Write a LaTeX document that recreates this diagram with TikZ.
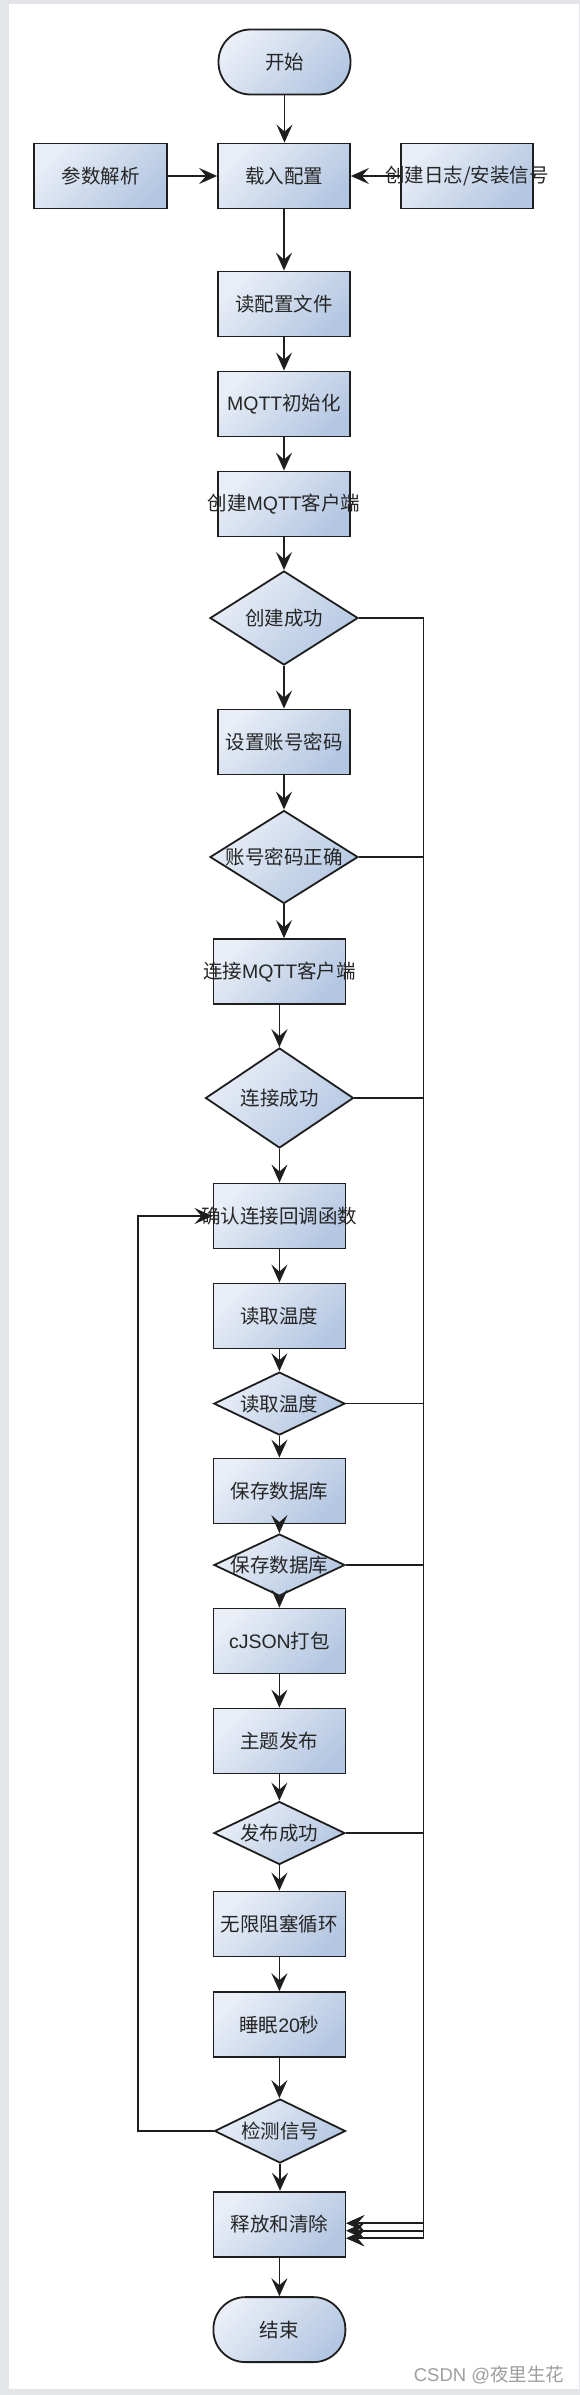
\documentclass[tikz,border=0pt]{standalone}
\usepackage{fontspec}
\setmainfont{Noto Sans CJK SC}
\newfontfamily\lat{Liberation Sans}
\usetikzlibrary{shapes.geometric,arrows.meta}
\definecolor{boxlight}{HTML}{E9EEF7}
\definecolor{boxdark}{HTML}{B4C7E2}
\definecolor{pagegrey}{HTML}{E3E5E8}
\definecolor{inkgrey}{HTML}{1E1E1E}
\newcommand{\ctext}[1]{\makebox[0pt]{#1}}

\begin{document}
\begin{tikzpicture}[x=1pt, y=-1pt,
	font=\fontsize{19.5}{23}\selectfont,
	procbox/.style={draw=inkgrey, line width=1.8pt, text=black!85, top color=boxlight, bottom color=boxdark, shading angle=45, minimum width=132pt, minimum height=65pt, inner sep=0pt},
	decision/.style={procbox, diamond},
	terminal/.style={procbox, rounded corners=32pt},
	arr/.style={-{Stealth[length=18pt, width=16pt, inset=7pt]}, line width=1.8pt, draw=inkgrey},
	ret/.style={arr, line width=1.7pt}]
	\useasboundingbox (0,0) rectangle (580,2395);
	\fill[pagegrey] (0,0) rectangle (580,2395);
	\fill[white] (9,4) rectangle (578.5,2388.5);

	\node[terminal] (start) at (284.5,62) {\ctext{开始}};
	\node[procbox] (load) at (284,176) {\ctext{载入配置}};
	\node[procbox, minimum width=133pt] (args) at (100.5,176) {\ctext{参数解析}};
	\node[procbox] (logsig) at (467,176) {\ctext{创建日志/安装信号}};
	\node[procbox] (readcfg) at (284,304) {\ctext{读配置文件}};
	\node[procbox] (mqttinit) at (284,404) {\ctext{{\lat MQTT}初始化}};
	\node[procbox] (create) at (284,504) {\ctext{创建{\lat MQTT}客户端}};
	\node[decision, minimum width=148pt, minimum height=94pt] (okcreate) at (284,618) {\ctext{创建成功}};
	\node[procbox] (setacct) at (284,742) {\ctext{设置账号密码}};
	\node[decision, minimum width=148pt, minimum height=93pt] (okacct) at (284,857) {\ctext{账号密码正确}};
	\node[procbox] (connect) at (279.4,971.6) {\ctext{连接{\lat MQTT}客户端}};
	\node[decision, minimum width=148pt, minimum height=100pt] (okconn) at (279.5,1098) {\ctext{连接成功}};
	\node[procbox] (confirm) at (279.4,1216) {\ctext{确认连接回调函数}};
	\node[procbox] (readtemp) at (279.4,1316) {\ctext{读取温度}};
	\node[decision, minimum width=131pt, minimum height=63pt] (oktemp) at (279.4,1403.6) {\ctext{读取温度}};
	\node[procbox] (savedb) at (279.4,1491) {\ctext{保存数据库}};
	\node[decision, minimum width=131pt, minimum height=62pt] (oksave) at (279.4,1565) {\ctext{保存数据库}};
	\node[procbox] (pack) at (279.4,1641) {\ctext{{\lat cJSON}打包}};
	\node[procbox] (publish) at (279.4,1741) {\ctext{主题发布}};
	\node[decision, minimum width=131pt, minimum height=63pt] (okpub) at (279.4,1833) {\ctext{发布成功}};
	\node[procbox] (loop) at (279.4,1924) {\ctext{无限阻塞循环}};
	\node[procbox] (sleep) at (279.4,2024.6) {\ctext{睡眠{\lat 20}秒}};
	\node[decision, minimum width=131pt, minimum height=64pt] (sigchk) at (280,2131) {\ctext{检测信号}};
	\node[procbox] (cleanup) at (279.4,2224.2) {\ctext{释放和清除}};
	\node[terminal] (finish) at (279.4,2329.6) {\ctext{结束}};
	\node[text=black!38, font=\fontsize{18.5}{22}\selectfont] (mark) at (489,2375) {{\lat CSDN @}夜里生花};

	\coordinate (rail) at (423.5,0);
	\coordinate (back) at (137.6,0);

	\foreach \a/\b in {start/load, load/readcfg, readcfg/mqttinit, mqttinit/create, create/okcreate, okcreate/setacct, setacct/okacct, okacct/connect, connect/okconn, okconn/confirm, confirm/readtemp, readtemp/oktemp, oktemp/savedb, savedb/oksave, oksave/pack, pack/publish, publish/okpub, okpub/loop, loop/sleep, sleep/sigchk, sigchk/cleanup, cleanup/finish}
		\draw[arr] (\a.south) -- (\a.south |- \b.north);
	\draw[arr] (args) -- (load);
	\draw[arr] (logsig) -- (load);

	\foreach \d/\s in {okcreate/-14, okacct/-14, okconn/-6.5, oktemp/-6.5, oksave/1, okpub/1}
		\draw[ret] (\d.east) -- (\d.east -| rail) |- ([yshift=\s pt]cleanup.east);

	\draw[arr] (sigchk.west) -- (sigchk.west -| back) |- (confirm.west);
\end{tikzpicture}
\end{document}
